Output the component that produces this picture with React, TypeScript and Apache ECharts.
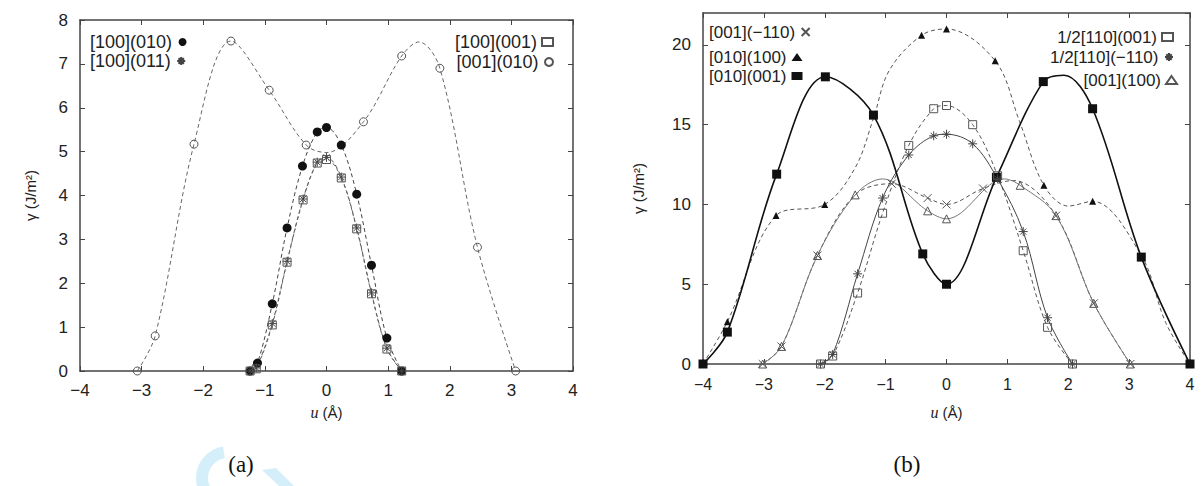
import React, { useEffect, useRef } from 'react';
import * as echarts from 'echarts';

// ---------- Panel (a) ----------
const A1_NAME = '[100](010)';
const A1_X = [-1.24, -1.12, -0.88, -0.64, -0.39, -0.15, 0, 0.24, 0.49, 0.73, 0.98, 1.22];
const A1_Y = [0, 0.18, 1.53, 3.26, 4.67, 5.45, 5.55, 5.15, 4.03, 2.41, 0.75, 0];

const A2_NAME = '[100](011)';
const A2_X = [-1.24, -1.14, -0.88, -0.64, -0.38, -0.15, 0, 0.24, 0.49, 0.73, 0.98, 1.22];
const A2_Y = [0, 0.07, 1.08, 2.5, 3.92, 4.76, 4.87, 4.42, 3.26, 1.78, 0.52, 0];

const A3_NAME = '[100](001)';
const A3_X = [-1.24, -1.14, -0.88, -0.64, -0.38, -0.15, 0, 0.24, 0.49, 0.73, 0.98, 1.22];
const A3_Y = [0, 0.05, 1.05, 2.48, 3.9, 4.74, 4.82, 4.4, 3.24, 1.76, 0.5, 0];

const A4_NAME = '[001](010)';
const A4_X = [-3.07, -2.78, -2.15, -1.55, -0.93, -0.33, 0.6, 1.22, 1.84, 2.45, 3.07];
const A4_Y = [0, 0.8, 5.17, 7.52, 6.4, 5.15, 5.68, 7.18, 6.9, 2.82, 0];
const A4_CURVE_X = [0, 1.5];
const A4_CURVE_Y = [4.98, 7.5];

// ---------- Panel (b) ----------
const B1_NAME = '[001](\u2212110)';
const B1_X = [-3.02, -2.71, -2.12, -0.9, -0.31, 0, 0.6, 1.8, 2.42, 3.02];
const B1_Y = [0, 1.1, 6.8, 11.3, 10.4, 10.0, 11.0, 9.3, 3.8, 0];
const B1_CURVE_X = [-1.5, 1.1];
const B1_CURVE_Y = [10.6, 11.5];

const B2_NAME = '[010](100)';
const B2_X = [-4, -3.6, -2.8, -2.0, -0.41, 0, 0.8, 1.6, 2.4, 4];
const B2_Y = [0, 2.65, 9.3, 10.0, 20.6, 21.0, 19.0, 11.2, 10.2, 0];
const B2_CURVE_X = [-1.5, -1.2, -0.94, 1.2, 2.0, 3.2, 3.6];
const B2_CURVE_Y = [12.3, 15.4, 18.4, 15.2, 9.9, 6.8, 2.6];

const B3_NAME = '[010](001)';
const B3_X = [-4, -3.6, -2.79, -1.99, -1.2, -0.39, 0, 0.82, 1.59, 2.4, 3.2, 4];
const B3_Y = [0, 2.0, 11.9, 18.0, 15.6, 6.9, 5.0, 11.7, 17.7, 16.0, 6.7, 0];
const B3_CURVE_X = [1.93];
const B3_CURVE_Y = [18.1];

const B4_NAME = '1/2[110](001)';
const B4_X = [-2.07, -1.87, -1.46, -1.05, -0.62, -0.21, 0, 0.43, 0.84, 1.26, 1.66, 2.07];
const B4_Y = [0, 0.5, 4.45, 9.45, 13.7, 16.0, 16.2, 15.0, 11.8, 7.1, 2.3, 0];

const B5_NAME = '1/2[110](\u2212110)';
const B5_X = [-2.07, -1.87, -1.46, -1.05, -0.62, -0.21, 0, 0.43, 0.84, 1.26, 1.66, 2.07];
const B5_Y = [0, 0.6, 5.65, 10.4, 13.1, 14.3, 14.4, 13.8, 11.6, 8.3, 2.9, 0];

const B6_NAME = '[001](100)';
const B6_X = [-3.02, -2.71, -2.12, -1.5, -0.31, 0, 1.21, 1.8, 2.42, 3.02];
const B6_Y = [0, 1.1, 6.8, 10.6, 9.6, 9.1, 11.2, 9.3, 3.8, 0];
const B6_CURVE_X = [-1.05, 0.95];
const B6_CURVE_Y = [11.6, 11.6];

// ---------- helpers ----------
const pts = (xs: number[], ys: number[]) => xs.map((x, i) => [x, ys[i]]);
const curve = (xs: number[], ys: number[], ex: number[] = [], ey: number[] = []) =>
  pts(xs, ys).concat(pts(ex, ey)).sort((a, b) => a[0] - b[0]);

const FONT = '"Liberation Sans", Arial, sans-serif';
const INK = '#222';
const AXIS = '#444';

const SYM_STAR = 'path://M5,0L5,10M0,5L10,5M1.6,1.6L8.4,8.4M8.4,1.6L1.6,8.4';
const SYM_X = 'path://M0,0L10,10M10,0L0,10';
const NONE = 'rgba(0,0,0,0)';

const minus = (v: number) => String(v).replace('-', '\u2212');

function App() {
  const ref = useRef<HTMLDivElement>(null);
  useEffect(() => {
    document.body.style.margin = '0';
    const chart = echarts.init(ref.current!, undefined, { renderer: 'svg' });

    const xBase = (grid: number, fs: number, margin: number, nameGap: number) => ({
      type: 'value', gridIndex: grid, min: -4, max: 4, interval: 1, position: 'bottom',
      axisLine: { show: true, onZero: false, lineStyle: { color: AXIS, width: 1.5 } },
      axisTick: { show: true, inside: true, length: 5, lineStyle: { color: AXIS } },
      axisLabel: { color: INK, fontSize: fs, fontFamily: FONT, margin, formatter: minus },
      splitLine: { show: false },
      name: '{i|u} (\u00c5)', nameLocation: 'middle', nameGap, nameMoveOverlap: false,
      nameTextStyle: {
        color: INK, fontSize: 15, fontFamily: FONT,
        rich: { i: { fontStyle: 'italic', fontFamily: '"Liberation Serif", serif', fontSize: 16, color: INK } },
      },
    });
    const xTop = (grid: number) => ({
      type: 'value', gridIndex: grid, min: -4, max: 4, interval: 1, position: 'top',
      axisLine: { show: true, onZero: false, lineStyle: { color: AXIS, width: 1.5 } },
      axisTick: { show: true, inside: true, length: 5, lineStyle: { color: AXIS } },
      axisLabel: { show: false }, splitLine: { show: false },
    });
    const yBase = (grid: number, max: number, interval: number, fs: number, margin: number, nameGap: number) => ({
      type: 'value', gridIndex: grid, min: 0, max, interval, position: 'left',
      axisLine: { show: true, onZero: false, lineStyle: { color: AXIS, width: 1.5 } },
      axisTick: { show: true, inside: true, length: 5, lineStyle: { color: AXIS } },
      axisLabel: { color: INK, fontSize: fs, fontFamily: FONT, margin, showMaxLabel: max % interval === 0 },
      splitLine: { show: false },
      name: '\u03b3 (J/m\u00b2)', nameLocation: 'middle', nameGap, nameRotate: 90, nameMoveOverlap: false,
      nameTextStyle: { color: INK, fontSize: 15, fontFamily: FONT },
    });
    const yRight = (grid: number, max: number, interval: number) => ({
      type: 'value', gridIndex: grid, min: 0, max, interval, position: 'right',
      axisLine: { show: true, onZero: false, lineStyle: { color: AXIS, width: 1.5 } },
      axisTick: { show: true, inside: true, length: 5, lineStyle: { color: AXIS } },
      axisLabel: { show: false }, splitLine: { show: false },
    });

    const lineS = (name: string, data: number[][], axis: number, color: string, width: number, type: any) => ({
      type: 'line', name: '_' + name, data, xAxisIndex: axis, yAxisIndex: axis,
      smooth: 0.35, showSymbol: false, symbol: 'none', silent: true, z: 2,
      lineStyle: { color, width, type },
    });
    const markS = (name: string, data: number[][], axis: number, symbol: string, size: number, fill: string, border: string, bw: number) => ({
      type: 'scatter', name, data, xAxisIndex: axis, yAxisIndex: axis,
      symbol, symbolSize: size, z: 3,
      itemStyle: { color: fill, borderColor: border, borderWidth: bw, opacity: 1 },
    });

    const dashA = [4, 3];
    const series: any[] = [
      // panel (a)
      lineS(A4_NAME, curve(A4_X, A4_Y, A4_CURVE_X, A4_CURVE_Y), 0, '#666', 1, dashA),
      lineS(A1_NAME, curve(A1_X, A1_Y), 0, '#444', 1, dashA),
      lineS(A2_NAME, curve(A2_X, A2_Y), 0, '#555', 1, dashA),
      lineS(A3_NAME, curve(A3_X, A3_Y), 0, '#666', 1, [3, 3]),
      markS(A1_NAME, pts(A1_X, A1_Y), 0, 'circle', 9, '#111', '#111', 0),
      markS(A2_NAME, pts(A2_X, A2_Y), 0, SYM_STAR, 9, NONE, '#444', 1),
      markS(A3_NAME, pts(A3_X, A3_Y), 0, 'rect', 8, NONE, '#555', 1),
      markS(A4_NAME, pts(A4_X, A4_Y), 0, 'circle', 8, NONE, '#555', 1),
      // panel (b)
      lineS(B2_NAME, curve(B2_X, B2_Y, B2_CURVE_X, B2_CURVE_Y), 1, '#555', 1, dashA),
      lineS(B1_NAME, curve(B1_X, B1_Y, B1_CURVE_X, B1_CURVE_Y), 1, '#555', 1, dashA),
      lineS(B6_NAME, curve(B6_X, B6_Y, B6_CURVE_X, B6_CURVE_Y), 1, '#777', 1, 'solid'),
      lineS(B4_NAME, curve(B4_X, B4_Y), 1, '#555', 1, dashA),
      lineS(B5_NAME, curve(B5_X, B5_Y), 1, '#444', 1, 'solid'),
      lineS(B3_NAME, curve(B3_X, B3_Y, B3_CURVE_X, B3_CURVE_Y), 1, '#111', 1.6, 'solid'),
      markS(B1_NAME, pts(B1_X, B1_Y), 1, SYM_X, 8, NONE, '#555', 1),
      markS(B2_NAME, pts(B2_X, B2_Y), 1, 'triangle', 7, '#111', '#111', 0),
      markS(B3_NAME, pts(B3_X, B3_Y), 1, 'rect', 9, '#111', '#111', 0),
      markS(B4_NAME, pts(B4_X, B4_Y), 1, 'rect', 8, NONE, '#555', 1),
      markS(B5_NAME, pts(B5_X, B5_Y), 1, SYM_STAR, 9, NONE, '#444', 1),
      markS(B6_NAME, pts(B6_X, B6_Y), 1, 'triangle', 8, NONE, '#555', 1),
    ];

    const leg = (name: string, pos: any, cy: number, fs: number) => ({
      data: [name], ...pos, top: cy - 9, align: 'right', orient: 'vertical',
      padding: 0, itemWidth: 11, itemHeight: 8, selectedMode: false,
      textStyle: { color: INK, fontSize: fs, fontFamily: FONT, lineHeight: 18 },
    });

    chart.setOption({
      animation: false,
      grid: [
        { left: 80, top: 20, width: 493, height: 351 },
        { left: 703, top: 13, width: 487, height: 351 },
      ],
      xAxis: [xBase(0, 17, 11, 33), xBase(1, 16, 12, 40), xTop(0), xTop(1)],
      yAxis: [yBase(0, 8, 1, 17, 12, 42), yBase(1, 22, 5, 17, 12, 57), yRight(0, 8, 1), yRight(1, 22, 5)],
      legend: [
        leg(A1_NAME, { left: 90 }, 42, 18),
        leg(A2_NAME, { left: 90 }, 61, 18),
        leg(A3_NAME, { right: 648 }, 42, 18),
        leg(A4_NAME, { right: 648 }, 62, 18),
        leg(B1_NAME, { left: 709 }, 32, 17),
        leg(B2_NAME, { left: 709 }, 57, 17),
        leg(B3_NAME, { left: 709 }, 76, 17),
        leg(B4_NAME, { right: 28 }, 37, 17),
        leg(B5_NAME, { right: 28 }, 57, 17),
        leg(B6_NAME, { right: 24 }, 80, 17),
      ],
      graphic: [
        { type: 'arc', shape: { cx: 228, cy: 478, r: 26, startAngle: Math.PI * 0.55, endAngle: Math.PI * 1.45 },
          style: { stroke: '#d4effa', lineWidth: 12, fill: 'none' }, z: 0 },
        { type: 'polygon', shape: { points: [[262, 470], [276, 468], [294, 486], [279, 486]] },
          style: { fill: '#d4effa' }, z: 0 },
        { type: 'text', x: 241, y: 464, style: { text: '(a)', fill: '#111', font: '23px "Liberation Serif", serif', textAlign: 'center', textVerticalAlign: 'middle' }, z: 5 },
        { type: 'text', x: 907, y: 464, style: { text: '(b)', fill: '#111', font: '23px "Liberation Serif", serif', textAlign: 'center', textVerticalAlign: 'middle' }, z: 5 },
      ],
      series,
    });
    return () => chart.dispose();
  }, []);
  return <div ref={ref} style={{ width: 1202, height: 486 }} />;
}

export default App;
